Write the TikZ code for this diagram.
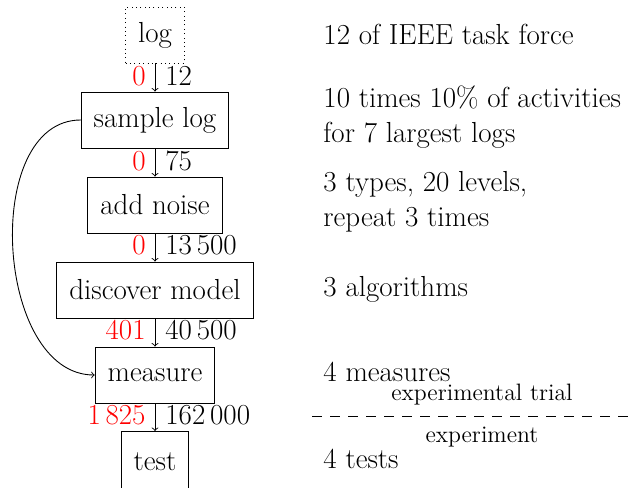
\documentclass[tikz,border=0pt]{standalone}
\tikzset{
  stage/.style={draw, minimum height=56*0.02cm, inner xsep=12.5*0.02cm},
  red num/.style={anchor=east, text=red, inner sep=0pt},
  black num/.style={anchor=west, inner sep=0pt},
  note/.style={anchor=west, align=left, inner sep=0pt},
  small note/.style={font=\fontsize{13.5}{16}\selectfont, inner sep=0pt},
}
\begin{document}
\begin{tikzpicture}[x=0.02cm, y=-0.02cm, font=\fontsize{16.5}{20}\selectfont, >=to, line width=0.5pt]
\clip (0,0) rectangle (635,487);
\node[stage, dotted] (log) at (155,35) {log};
\node[stage] (sample) at (155,120) {sample log};
\node[stage] (noise) at (155,205) {add noise};
\node[stage] (discover) at (155,290) {discover model};
\node[stage] (measure) at (155,375) {measure};
\node[stage, minimum height=60*0.02cm, anchor=north] (test) at (155,431) {test};
%
\draw[->] (log) -- (sample);
\draw[->] (sample) -- (noise);
\draw[->] (noise) -- (discover);
\draw[->] (discover) -- (measure);
\draw[->] (measure) -- (test);
\draw[->] (sample.west) to[out=180, in=180] (measure.west);
%
\node[red num] (r1) at (146,76) {0};
\node[black num] (b1) at (165,76) {12};
\node[red num] (r2) at (146,161) {0};
\node[black num] (b2) at (165,161) {75};
\node[red num] (r3) at (146,245) {0};
\node[black num] (b3) at (165,245) {13\,500};
\node[red num] (r4) at (146,330) {401};
\node[black num] (b4) at (165,330) {40\,500};
\node[red num] (r5) at (146,415) {1\,825};
\node[black num] (b5) at (165,415) {162\,000};
%
\node[note] (t1) at (323,34) {12 of IEEE task force};
\node[note] (t2) at (323,117) {10 times 10\% of activities\\for 7 largest logs};
\node[note] (t3) at (323,202) {3 types, 20 levels,\\repeat 3 times};
\node[note] (t4) at (323,289) {3 algorithms};
\node[note] (t5) at (323,372) {4 measures};
\node[note] (t6) at (323,459) {4 tests};
%
\coordinate (cut1) at (312,416);
\coordinate (cut2) at (640,416);
\draw[dashed, dash pattern=on 10*0.02cm off 8*0.02cm] (cut1) -- (cut2);
\node[small note] (trial) at (482,395) {experimental trial};
\node[small note] (exp) at (482,437) {experiment};
\end{tikzpicture}
\end{document}
